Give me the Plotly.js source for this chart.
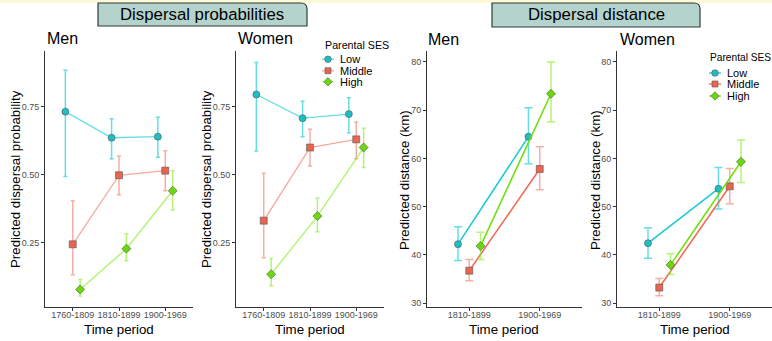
<!DOCTYPE html>
<html>
<head>
<meta charset="utf-8">
<script src="https://cdn.plot.ly/plotly-3.0.1.min.js"></script>
<style>html,body{margin:0;padding:0;background:#fff;}#chart{width:772px;height:341px;}</style>
</head>
<body>
<div id="chart"></div>
<script>
// ---- data ----
const periodsProb = ['1760-1809', '1810-1899', '1900-1969'];
const periodsDist = ['1810-1899', '1900-1969'];
const groups = ['Low', 'Middle', 'High'];
const legendTitle = 'Parental SES';

// Dispersal probability, men
const probMenLow = [0.732, 0.636, 0.640];
const probMenLowLo = [0.493, 0.559, 0.564];
const probMenLowHi = [0.884, 0.706, 0.711];
const probMenMid = [0.244, 0.498, 0.515];
const probMenMidLo = [0.132, 0.426, 0.441];
const probMenMidHi = [0.404, 0.569, 0.588];
const probMenHigh = [0.078, 0.228, 0.441];
const probMenHighLo = [0.054, 0.184, 0.370];
const probMenHighHi = [0.115, 0.282, 0.515];

// Dispersal probability, women
const probWomLow = [0.795, 0.708, 0.723];
const probWomLowLo = [0.587, 0.640, 0.654];
const probWomLowHi = [0.913, 0.770, 0.783];
const probWomMid = [0.331, 0.600, 0.630];
const probWomMidLo = [0.195, 0.532, 0.559];
const probWomMidHi = [0.505, 0.667, 0.694];
const probWomHigh = [0.134, 0.348, 0.600];
const probWomHighLo = [0.092, 0.290, 0.527];
const probWomHighHi = [0.192, 0.414, 0.671];

// Dispersal distance (km), men
const distMenLow = [42.2, 64.5];
const distMenLowLo = [38.8, 58.9];
const distMenLowHi = [45.8, 70.5];
const distMenMid = [36.7, 57.8];
const distMenMidLo = [34.6, 53.5];
const distMenMidHi = [39.0, 62.4];
const distMenHigh = [41.8, 73.4];
const distMenHighLo = [39.0, 67.6];
const distMenHighHi = [44.7, 80.0];

// Dispersal distance (km), women
const distWomLow = [42.4, 53.7];
const distWomLowLo = [39.3, 49.5];
const distWomLowHi = [45.6, 58.1];
const distWomMid = [33.2, 54.2];
const distWomMidLo = [31.5, 50.6];
const distWomMidHi = [35.1, 57.9];
const distWomHigh = [37.9, 59.3];
const distWomHighLo = [35.9, 55.0];
const distWomHighHi = [40.2, 63.8];

// ---- styling ----
const markerColor = {Low: '#1dbfc6', Middle: '#e8654f', High: '#6ad80a'};
const symbol = {Low: 'circle', Middle: 'square', High: 'diamond'};
const lineLight = {Low: 'rgba(0,200,208,0.6)', Middle: 'rgba(240,110,90,0.6)', High: 'rgba(130,235,30,0.65)'};
const lineStrong = {Low: '#1ccbd3', Middle: '#ef6d58', High: '#6fe010'};
const errColor = {Low: 'rgba(0,200,208,0.6)', Middle: 'rgba(240,110,90,0.55)', High: 'rgba(130,235,30,0.6)'};
const dodge = {Low: -0.16, Middle: 0, High: 0.16};

function mkTrace(cats, est, lo, hi, g, xa, ya, strongLine, cap) {
  return {
    type: 'scatter', mode: 'lines+markers', name: g,
    x: cats.map((c, i) => i + dodge[g]),
    y: est,
    xaxis: xa, yaxis: ya,
    showlegend: false,
    line: {color: strongLine ? lineStrong[g] : lineLight[g], width: strongLine ? 1.6 : 1.3},
    marker: {symbol: symbol[g], size: 7, color: markerColor[g], line: {color: '#555', width: 0.6}},
    error_y: {type: 'data', symmetric: false,
      array: est.map((v, i) => hi[i] - v),
      arrayminus: est.map((v, i) => v - lo[i]),
      color: errColor[g], thickness: 1.5, width: cap},
    hoverinfo: 'skip'
  };
}

const data = [
  mkTrace(periodsProb, probMenLow, probMenLowLo, probMenLowHi, 'Low', 'x', 'y', false, 2),
  mkTrace(periodsProb, probMenMid, probMenMidLo, probMenMidHi, 'Middle', 'x', 'y', false, 2),
  mkTrace(periodsProb, probMenHigh, probMenHighLo, probMenHighHi, 'High', 'x', 'y', false, 2),
  mkTrace(periodsProb, probWomLow, probWomLowLo, probWomLowHi, 'Low', 'x2', 'y2', false, 2),
  mkTrace(periodsProb, probWomMid, probWomMidLo, probWomMidHi, 'Middle', 'x2', 'y2', false, 2),
  mkTrace(periodsProb, probWomHigh, probWomHighLo, probWomHighHi, 'High', 'x2', 'y2', false, 2),
  mkTrace(periodsDist, distMenLow, distMenLowLo, distMenLowHi, 'Low', 'x3', 'y3', true, 4),
  mkTrace(periodsDist, distMenMid, distMenMidLo, distMenMidHi, 'Middle', 'x3', 'y3', true, 4),
  mkTrace(periodsDist, distMenHigh, distMenHighLo, distMenHighHi, 'High', 'x3', 'y3', true, 4),
  mkTrace(periodsDist, distWomLow, distWomLowLo, distWomLowHi, 'Low', 'x4', 'y4', true, 4),
  mkTrace(periodsDist, distWomMid, distWomMidLo, distWomMidHi, 'Middle', 'x4', 'y4', true, 4),
  mkTrace(periodsDist, distWomHigh, distWomHighLo, distWomHighHi, 'High', 'x4', 'y4', true, 4)
];

const W = 772, H = 341;
const px = v => v / W;
const py = v => 1 - v / H;

const font = 'Liberation Sans, Arial, sans-serif';
const baseX = {
  showline: true, linecolor: '#333', linewidth: 1, ticks: 'outside', ticklen: 3, tickcolor: '#333', tickwidth: 1,
  tickfont: {family: font, size: 9, color: '#4d4d4d'},
  showgrid: false, zeroline: false, fixedrange: true
};
function xAxis(dom, cats, anchor) {
  return Object.assign({}, baseX, {domain: dom, range: cats.length === 3 ? [-0.6, 2.6] : [-0.6, 1.6],
    tickmode: 'array', tickvals: cats.map((c, i) => i), ticktext: cats, anchor: anchor, ticklabelstandoff: -4});
}
function yAxis(anchor, prob) {
  const a = Object.assign({}, baseX, {domain: [py(307), py(51)], anchor: anchor});
  if (prob) { a.range = [0.0135, 0.955]; a.tickvals = [0.25, 0.5, 0.75]; a.ticktext = ['0.25', '0.50', '0.75']; a.tickmode = 'array'; }
  else { a.range = [29.17, 82.27]; a.tickvals = [30, 40, 50, 60, 70, 80]; a.tickmode = 'array'; }
  return a;
}

const annotations = [];
function txt(x, y, t, size, extra) {
  annotations.push(Object.assign({xref: 'paper', yref: 'paper', x: px(x), y: py(y), text: t, showarrow: false,
    font: {family: font, size: size, color: '#000'}, xanchor: 'center', yanchor: 'middle'}, extra || {}));
}
// panel titles
txt(45, 38, 'Men', 16, {xanchor: 'left'});
txt(236, 38, 'Women', 16, {xanchor: 'left'});
txt(426, 39, 'Men', 16, {xanchor: 'left'});
txt(618, 39, 'Women', 16, {xanchor: 'left'});
// y titles
txt(15, 179, 'Predicted dispersal probability', 13.3, {textangle: -90});
txt(206, 179, 'Predicted dispersal probability', 13.3, {textangle: -90});
txt(404, 180, 'Predicted distance (km)', 13.3, {textangle: -90});
txt(595, 180, 'Predicted distance (km)', 13.3, {textangle: -90});
// x titles
txt(119, 329, 'Time period', 13.3);
txt(310, 329, 'Time period', 13.3);
txt(504, 329, 'Time period', 13.3);
txt(695, 329, 'Time period', 13.3);
// section headers
txt(202, 15, 'Dispersal probabilities', 16.8);
txt(596, 15, 'Dispersal distance', 16.8);

function tabPath(x0, y0, x1, y1, r) {
  return `M ${px(x0)} ${py(y1)} L ${px(x0)} ${py(y0)} L ${px(x1 - r)} ${py(y0)} Q ${px(x1)} ${py(y0)} ${px(x1)} ${py(y0 + r)} L ${px(x1)} ${py(y1)} Z`;
}

const shapes = [
  {type: 'rect', xref: 'paper', yref: 'paper', x0: 0, x1: 1, y0: py(3), y1: 1, fillcolor: '#fdf8d8', line: {width: 0}, layer: 'below'},
  {type: 'path', xref: 'paper', yref: 'paper', path: tabPath(98, 3, 307, 26, 6), fillcolor: '#b5d3cd', line: {color: '#2f3b3b', width: 1.2}},
  {type: 'path', xref: 'paper', yref: 'paper', path: tabPath(492, 3, 700, 27, 6), fillcolor: '#b5d3cd', line: {color: '#2f3b3b', width: 1.2}}
];

// ggplot-style legend keys (key glyph + label), drawn in paper space
function legendBlock(left, titleY, keyX, textX, rowYs, strong, titleSize) {
  txt(left, titleY, legendTitle, titleSize, {xanchor: 'left'});
  groups.forEach((g, i) => {
    const cy = rowYs[i];
    txt(textX, cy, g, 11, {xanchor: 'left'});
    shapes.push({type: 'line', xref: 'paper', yref: 'paper', x0: px(keyX - 6), x1: px(keyX + 6), y0: py(cy), y1: py(cy),
      line: {color: strong ? lineStrong[g] : lineLight[g], width: 1.3}});
    const r = 3.3;
    const common = {xref: 'paper', yref: 'paper', fillcolor: markerColor[g], line: {color: '#555', width: 0.6}};
    if (symbol[g] === 'circle') {
      shapes.push(Object.assign({type: 'circle', x0: px(keyX - r), x1: px(keyX + r), y0: py(cy + r), y1: py(cy - r)}, common));
    } else if (symbol[g] === 'square') {
      shapes.push(Object.assign({type: 'rect', x0: px(keyX - r + 0.3), x1: px(keyX + r - 0.3), y0: py(cy + r - 0.3), y1: py(cy - r + 0.3)}, common));
    } else {
      const d = 4.2;
      shapes.push(Object.assign({type: 'path', path: `M ${px(keyX - d)} ${py(cy)} L ${px(keyX)} ${py(cy - d)} L ${px(keyX + d)} ${py(cy)} L ${px(keyX)} ${py(cy + d)} Z`}, common));
    }
  });
}
legendBlock(322.7, 45, 328, 338, [59.3, 70.7, 81.7], false, 10.7);
legendBlock(707.5, 58, 715, 724.5, [73, 84, 96], true, 10.2);

const layout = {
  width: W, height: H,
  margin: {l: 0, r: 0, t: 0, b: 0},
  paper_bgcolor: '#fff', plot_bgcolor: 'rgba(0,0,0,0)',
  font: {family: font},
  showlegend: false,
  xaxis: xAxis([px(45), px(193)], periodsProb, 'y'),
  yaxis: yAxis('x', true),
  xaxis2: xAxis([px(236), px(384)], periodsProb, 'y2'),
  yaxis2: yAxis('x2', true),
  xaxis3: xAxis([px(427), px(582)], periodsDist, 'y3'),
  yaxis3: yAxis('x3', false),
  xaxis4: xAxis([px(617), 1], periodsDist, 'y4'),
  yaxis4: yAxis('x4', false),
  shapes: shapes,
  annotations: annotations
};

Plotly.newPlot('chart', data, layout, {displayModeBar: false, staticPlot: true});
</script>
</body>
</html>
